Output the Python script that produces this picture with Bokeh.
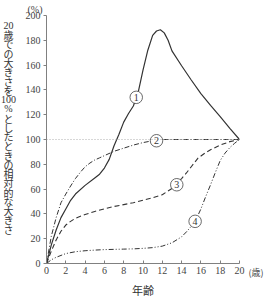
from bokeh.plotting import figure
from bokeh.models import Range1d, FixedTicker, Span, ColumnDataSource
from bokeh.layouts import row
from bokeh.embed import file_html
from bokeh.resources import INLINE
from bokeh.core.properties import value

# ---- data ----
age1 = [0, 0.5, 1, 1.5, 2, 2.5, 3, 4, 5, 5.5, 6, 6.5, 7, 7.5, 8, 8.5, 9, 9.5, 10, 10.5, 11, 11.4, 11.8, 12.2, 12.6, 13, 14, 15, 16, 17, 18, 19, 20]
val1 = [0, 15, 27, 37, 44, 51, 56, 63, 69, 72, 77, 84, 95, 104, 114, 121, 127, 138, 156, 172, 184, 187.5, 188.5, 186, 180, 171.5, 159.5, 148, 137, 127.5, 118.5, 109, 100]

age2 = [0, 0.5, 1, 1.5, 2, 2.5, 3, 3.5, 4, 4.5, 5, 5.5, 6, 7, 8, 9, 10, 11, 12, 20]
val2 = [0, 22, 37, 49, 56, 62.5, 68.5, 73.5, 78, 81, 83.5, 85.2, 87, 90.5, 93, 95.5, 97.5, 99, 100, 100]

age3 = [0, 0.5, 1, 1.5, 2, 2.5, 3, 4, 5, 6, 7, 8, 9, 10, 11, 12, 13, 14, 14.5, 15, 15.7, 16.5, 17, 18, 19, 20]
val3 = [0, 10, 19, 26, 31, 34, 36.5, 39.5, 42, 44, 46, 47.5, 49, 51, 53, 55.5, 60.5, 68.5, 73, 78, 85, 89.5, 91.7, 95.5, 98.3, 100]

age4 = [0, 0.5, 1, 2, 3, 4, 5, 6, 8, 9, 10, 11, 12, 13, 14, 14.5, 15, 15.5, 16, 16.5, 17, 17.5, 18, 18.5, 19, 19.5, 20]
val4 = [0, 3, 5, 8, 9.5, 10.3, 10.8, 11.2, 11.6, 11.8, 12.2, 12.8, 14, 16.7, 21.5, 25.5, 30, 35.5, 44, 54, 63.5, 73.5, 83, 89, 93.5, 97, 100]

mark_x = [9.3, 11.4, 13.5, 15.4]
mark_y = [134, 99, 63.5, 34]
mark_text = ["1", "2", "3", "4"]

x_ticks = [0, 2, 4, 6, 8, 10, 12, 14, 16, 18, 20]
y_ticks = [0, 20, 40, 60, 80, 100, 120, 140, 160, 180, 200]

y_title_parts = ["20", "歳", "で", "の", "大", "き", "さ", "を", "100", "%", "と", "し", "た",
                 "と", "き", "の", "相", "対", "的", "な", "大", "き", "さ"]
x_title = "年齢"
x_unit = "(歳)"
y_unit = "(%)"

INK = "#333333"
SERIF = "Liberation Serif"
JP = "Noto Sans CJK JP"

LEFT_W = 22
RIGHT_W = 17
H = 300
TOP = 15
BOTTOM = 36

# ---- left strip: vertical axis title (upright characters) ----
# its frame is aligned with the chart frame; y is measured upward from the page bottom
lf = figure(width=LEFT_W, height=H, output_backend="svg", toolbar_location=None,
            x_range=Range1d(0, LEFT_W), y_range=Range1d(BOTTOM, H - TOP),
            x_axis_type=None, y_axis_type=None,
            min_border_left=0, min_border_right=0, min_border_top=TOP, min_border_bottom=BOTTOM)
lf.title = None
lf.outline_line_color = None
lf.grid.visible = False
ascii_part = [t.isascii() for t in y_title_parts]
src = ColumnDataSource(dict(
    x=[8] * len(y_title_parts),
    y=[H - 25 - i * 9.3 for i in range(len(y_title_parts))],
    t=y_title_parts,
    f=[SERIF if a else JP for a in ascii_part],
))
lf.text("x", "y", text="t", text_font="f", text_font_size="10px", source=src,
        text_align="center", text_baseline="middle", text_color="#333333")

# ---- main chart ----
p = figure(width=264 - LEFT_W - RIGHT_W, height=H, output_backend="svg", toolbar_location=None,
           x_range=Range1d(0, 20), y_range=Range1d(0, 200),
           min_border_left=44 - LEFT_W, min_border_right=8, min_border_top=TOP, min_border_bottom=BOTTOM)
p.outline_line_color = None
p.grid.visible = False

p.title.text = y_unit
p.title.align = "left"
p.title.offset = -19
p.title.standoff = 2
p.title.text_font = SERIF
p.title.text_font_size = "10px"
p.title.text_font_style = "normal"
p.title.text_color = "#444444"

for ax in (p.xaxis[0], p.yaxis[0]):
    ax.axis_line_color = "#808080"
    ax.major_tick_line_color = "#808080"
    ax.minor_tick_line_color = None
    ax.major_label_text_font = SERIF
    ax.major_label_text_font_size = "10px"
    ax.major_label_text_color = "#444444"
    ax.axis_label_text_font = JP
    ax.axis_label_text_font_style = "normal"
    ax.axis_label_text_color = "#333333"

p.xaxis.ticker = FixedTicker(ticks=x_ticks)
p.yaxis.ticker = FixedTicker(ticks=y_ticks)
p.xaxis.major_tick_in = 3
p.xaxis.major_tick_out = 0
p.xaxis.major_label_standoff = 3
p.yaxis.major_tick_in = 0
p.yaxis.major_tick_out = 3
p.yaxis.major_label_standoff = 3
p.xaxis.axis_label = x_title
p.xaxis.axis_label_text_font_size = "11px"
p.xaxis.axis_label_standoff = 5

p.add_layout(Span(location=100, dimension="width", line_color="#999999",
                  line_width=0.8, line_dash="1 2"))

p.line(age1, val1, line_color=INK, line_width=1.2)
p.line(age2, val2, line_color=INK, line_width=1, line_dash="5 2 1 2")
p.line(age3, val3, line_color=INK, line_width=1.1, line_dash="5 3")
p.line(age4, val4, line_color=INK, line_width=1, line_dash="5 2 1 2 1 2")

p.scatter(mark_x, mark_y, size=12.5, fill_color="white", line_color="#444444", line_width=0.8)
p.text(mark_x, mark_y, text=mark_text, text_font=value(SERIF), text_font_size="10px",
       text_align="center", text_baseline="middle", text_color="#333333")

# ---- right strip: x unit, as the label of a bare axis ----
rf = figure(width=RIGHT_W, height=H, output_backend="svg", toolbar_location=None,
            x_range=Range1d(0, 1), y_range=Range1d(0, 1), y_axis_type=None,
            min_border_left=0, min_border_right=0, min_border_top=TOP, min_border_bottom=BOTTOM)
rf.title = None
rf.outline_line_color = None
rf.grid.visible = False
rax = rf.xaxis[0]
rax.ticker = FixedTicker(ticks=[])
rax.axis_line_color = None
rax.major_tick_line_color = None
rax.minor_tick_line_color = None
rax.major_label_text_font_size = "0px"
rax.major_tick_out = 0
rax.major_tick_in = 0
rax.major_label_standoff = 0
rax.axis_label = x_unit
rax.axis_label_standoff = 2
rax.axis_label_text_font = JP
rax.axis_label_text_font_size = "9px"
rax.axis_label_text_font_style = "normal"
rax.axis_label_text_color = "#444444"

layout = row(lf, p, rf, spacing=0)
open("out.html", "w").write(file_html(layout, INLINE))
